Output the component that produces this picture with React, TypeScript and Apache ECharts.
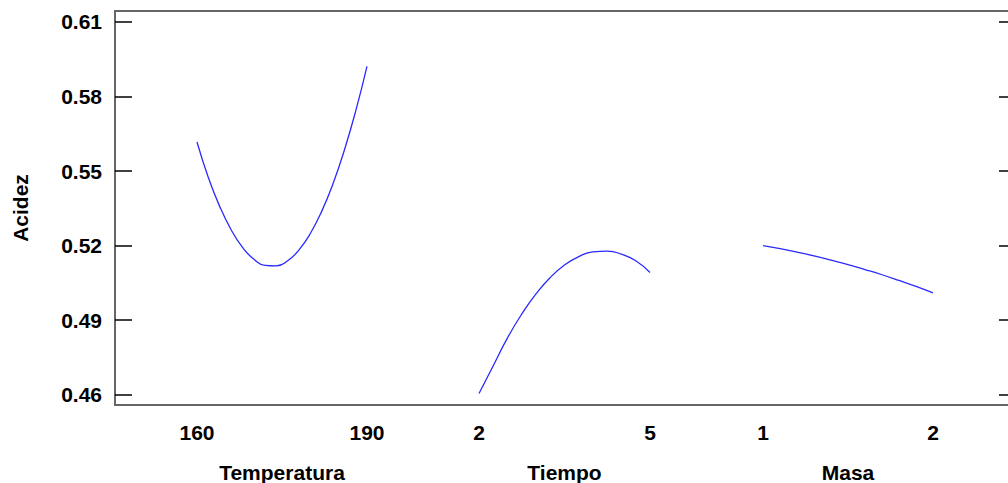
import React, { useEffect, useRef } from "react";
import * as echarts from "echarts";

const yTicks = [0.46, 0.49, 0.52, 0.55, 0.58, 0.61];
const yMin = 0.4559;
const yMax = 0.6144;

const tempTicks = [160, 190];
const tempX = [160, 162, 164, 166, 168, 170, 172, 174, 176, 178, 180, 182, 184, 186, 188, 190];
const tempY = [0.5617, 0.5474, 0.5358, 0.5265, 0.5194, 0.5146, 0.5121, 0.5119, 0.5139, 0.5183, 0.5249, 0.5338, 0.5449, 0.5584, 0.5741, 0.5921];

const tiempoTicks = [2, 5];
const tiempoX = [2, 2.25, 2.5, 2.75, 3, 3.25, 3.5, 3.75, 4, 4.25, 4.5, 4.75, 5];
const tiempoY = [0.4605, 0.4717, 0.4829, 0.4925, 0.5006, 0.5072, 0.5122, 0.5156, 0.5175, 0.5178, 0.5166, 0.5139, 0.5092];

const masaTicks = [1, 2];
const masaX = [1, 1.1, 1.2, 1.3, 1.4, 1.5, 1.6, 1.7, 1.8, 1.9, 2];
const masaY = [0.52, 0.5188, 0.5174, 0.5159, 0.5142, 0.5124, 0.5104, 0.5083, 0.506, 0.5036, 0.501];

const factorNames = ["Temperatura", "Tiempo", "Masa"];

const FONT = "'Liberation Sans', Arial, sans-serif";
const LINE_COLOR = "#2a2aff";

export default function App() {
  const ref = useRef<HTMLDivElement>(null);
  useEffect(() => {
    if (!ref.current) return;
    const chart = echarts.init(ref.current, undefined, { renderer: "svg" });
    const textStyle = { color: "#000", fontWeight: "bold" as const, fontSize: 21, fontFamily: FONT };
    const top = 11;
    const height = 394;
    const factorGrids = [
      { left: 197, width: 170, min: 160, max: 190, ticks: tempTicks, x: tempX, y: tempY },
      { left: 479, width: 171, min: 2, max: 5, ticks: tiempoTicks, x: tiempoX, y: tiempoY },
      { left: 763, width: 170, min: 1, max: 2, ticks: masaTicks, x: masaX, y: masaY },
    ];
    const option: any = {
      animation: false,
      backgroundColor: "#fff",
      grid: [
        { left: 115, top, width: 901, height, show: true, borderColor: "#666", borderWidth: 2, backgroundColor: "transparent", containLabel: false, outerBoundsMode: "none" },
        ...factorGrids.map((g) => ({ left: g.left, top, width: g.width, height, containLabel: false, outerBoundsMode: "none" })),
      ],
      xAxis: [
        { type: "value", gridIndex: 0, min: 0, max: 1, show: false },
        ...factorGrids.map((g, i) => ({
          type: "value",
          gridIndex: i + 1,
          min: g.min,
          max: g.max,
          axisLine: { show: false },
          axisTick: { show: false },
          splitLine: { show: false },
          axisLabel: { customValues: g.ticks, margin: 17, ...textStyle },
          name: factorNames[i],
          nameLocation: "middle",
          nameGap: 57,
          nameTextStyle: textStyle,
        })),
      ],
      yAxis: [
        {
          type: "value",
          gridIndex: 0,
          position: "left",
          min: yMin,
          max: yMax,
          axisLine: { show: false },
          axisTick: { show: true, inside: true, length: 17, customValues: yTicks, lineStyle: { color: "#000", width: 1.5 } },
          axisLabel: { customValues: yTicks, margin: 13, formatter: (v: number) => v.toFixed(2), ...textStyle },
          splitLine: { show: false },
          name: "Acidez",
          nameLocation: "middle",
          nameRotate: 90,
          nameGap: 84,
          nameTextStyle: textStyle,
        },
        {
          type: "value",
          gridIndex: 0,
          position: "right",
          min: yMin,
          max: yMax,
          axisLine: { show: false },
          axisTick: { show: true, inside: true, length: 17, customValues: yTicks, lineStyle: { color: "#000", width: 1.5 } },
          axisLabel: { show: false },
          splitLine: { show: false },
        },
        ...factorGrids.map((_, i) => ({
          type: "value",
          gridIndex: i + 1,
          min: yMin,
          max: yMax,
          show: false,
        })),
      ],
      series: factorGrids.map((g, i) => ({
        type: "line",
        xAxisIndex: i + 1,
        yAxisIndex: i + 2,
        data: g.x.map((xv, k) => [xv, g.y[k]]),
        smooth: true,
        showSymbol: false,
        lineStyle: { color: LINE_COLOR, width: 1.3 },
      })),
    };
    chart.setOption(option);
    return () => chart.dispose();
  }, []);
  return (
    <div
      ref={ref}
      style={{ position: "fixed", left: 0, top: 0, width: 1008, height: 483, background: "#fff" }}
    />
  );
}
